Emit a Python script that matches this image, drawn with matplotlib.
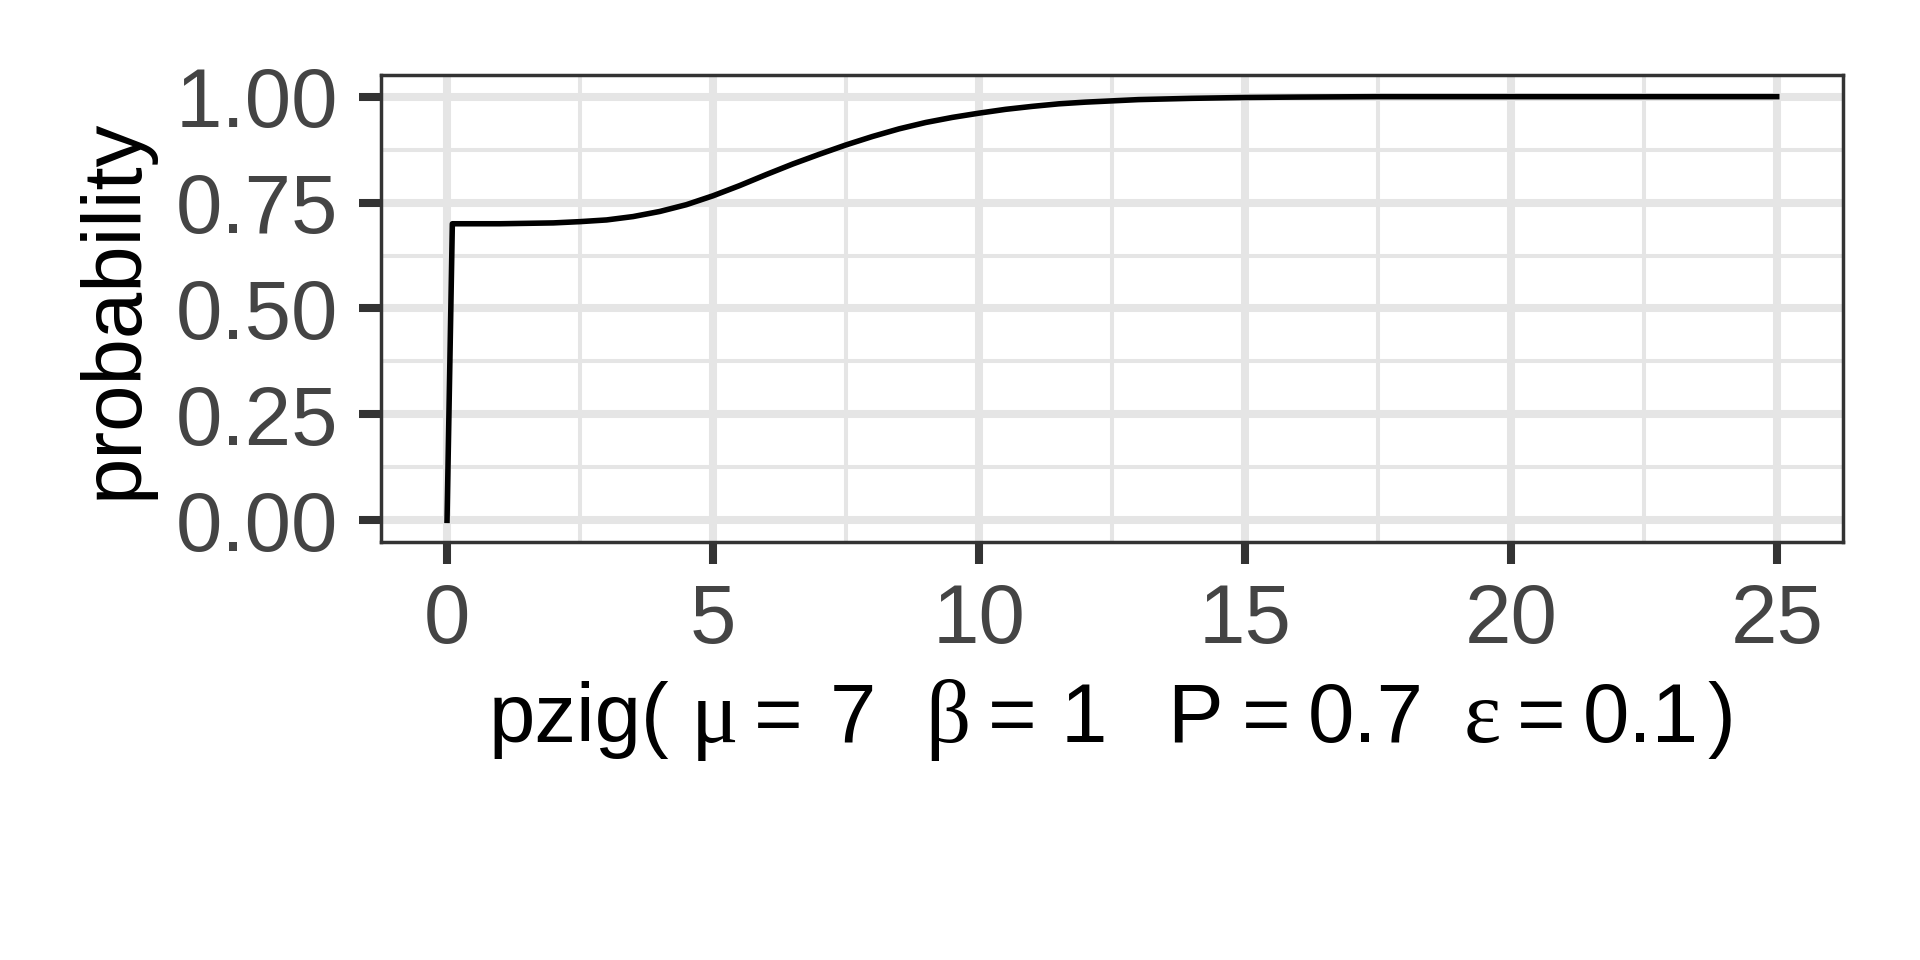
import numpy as np
import matplotlib
matplotlib.use("Agg")
import matplotlib.pyplot as plt
from matplotlib.transforms import IdentityTransform

# curve (cumulative probability)
x_vals = [0, 0.1, 1, 1.5, 2, 2.5, 3, 3.5, 4, 4.5, 5, 5.5, 6, 6.5, 7, 7.5,
          8, 8.5, 9, 9.5, 10, 10.5, 11, 11.5, 12, 12.5, 13, 14, 15, 16,
          17.5, 20, 25]
p_vals = [0, 0.700, 0.700, 0.701, 0.702, 0.705, 0.709, 0.717, 0.729,
          0.745, 0.766, 0.790, 0.816, 0.841, 0.864, 0.886, 0.906, 0.924,
          0.939, 0.951, 0.961, 0.970, 0.977, 0.983, 0.987, 0.990, 0.993,
          0.996, 0.998, 0.999, 1.0, 1.0, 1.0]

x_ticks = [0, 5, 10, 15, 20, 25]
x_tick_labels = ["0", "5", "10", "15", "20", "25"]
x_minor = [2.5, 7.5, 12.5, 17.5, 22.5]
y_ticks = [0, 0.25, 0.5, 0.75, 1.0]
y_tick_labels = ["0.00", "0.25", "0.50", "0.75", "1.00"]
y_minor = [0.125, 0.375, 0.625, 0.875]

y_label = "probability"
# label pieces: (text, font family, gap before in px)
label_parts = [
    ("pzig(", "Liberation Sans", 0),
    ("\u03bc", "Liberation Serif", 22),
    ("=", "Liberation Sans", 15),
    ("7", "Liberation Sans", 27),
    ("\u03b2", "Liberation Serif", 49),
    ("=", "Liberation Sans", 18),
    ("1", "Liberation Sans", 24),
    ("P", "Liberation Sans", 60),
    ("=", "Liberation Sans", 19),
    ("0.7", "Liberation Sans", 17),
    ("\u03b5", "Liberation Serif", 40),
    ("=", "Liberation Sans", 16),
    ("0.1", "Liberation Sans", 17),
    (")", "Liberation Sans", 9),
]

plt.rcParams['font.family'] = ['Liberation Sans', 'DejaVu Sans']
FS = 60
grid_col = "#E5E5E5"
dark = "#333333"

fig = plt.figure(figsize=(19.2, 9.6), dpi=100)
fig.patch.set_facecolor("white")
ax = fig.add_axes([0.1982, 0.4359, 0.9600 - 0.1982, 0.9214 - 0.4359])

ax.plot(x_vals, p_vals, color="black", linewidth=4.0, zorder=3,
        solid_joinstyle="round")

ax.set_xlim(-1.25, 26.25)
ax.set_ylim(-0.05, 1.05)
ax.set_xticks(x_ticks)
ax.set_xticklabels(x_tick_labels)
ax.set_yticks(y_ticks)
ax.set_yticklabels(y_tick_labels)
ax.set_xticks(x_minor, minor=True)
ax.set_yticks(y_minor, minor=True)

ax.grid(True, which="major", color=grid_col, linewidth=5.8, zorder=0)
ax.grid(True, which="minor", color=grid_col, linewidth=2.9, zorder=0)
ax.set_axisbelow(True)

ax.tick_params(which="major", length=15.8, width=5.8, color=dark,
               labelsize=FS, labelcolor="#444444")
ax.tick_params(axis="x", which="major", pad=13)
ax.tick_params(axis="y", which="major", pad=15)
ax.tick_params(which="minor", length=0)

for sp in ax.spines.values():
    sp.set_color(dark)
    sp.set_linewidth(2.5)

fig.text(0.0595, 0.4359 + (0.9214 - 0.4359) / 2, y_label, rotation=90,
         ha="center", va="center", fontsize=FS, color="black")

# lay out the x label piece by piece, centred under the panel
fig.canvas.draw()
renderer = fig.canvas.get_renderer()
bbox = ax.get_window_extent(renderer)
center_x = (bbox.x0 + bbox.x1) / 2
baseline_y = 960 - 742

texts = []
pos = 0.0
for s, fam, gap in label_parts:
    pos += gap
    size = FS + 4 if fam == "Liberation Serif" else FS
    t = fig.text(0, baseline_y, s, transform=IdentityTransform(),
                 family=fam, fontsize=size, color="black",
                 ha="left", va="baseline")
    w = t.get_window_extent(renderer).width
    texts.append((t, pos))
    pos += w
start = center_x - pos / 2
for t, off in texts:
    t.set_position((start + off, baseline_y))

fig.savefig("out.png", dpi=100, facecolor="white")
